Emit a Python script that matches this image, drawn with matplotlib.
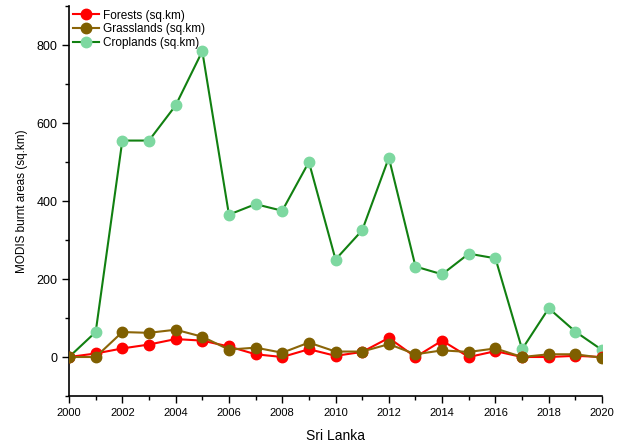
import matplotlib.pyplot as plt
from matplotlib.ticker import MultipleLocator

plt.rcParams["font.family"] = ["Liberation Sans", "DejaVu Sans"]

years = list(range(2000, 2021))
forests = [0, 9, 22, 32, 46, 42, 27, 7, 0, 20, 3, 13, 49, 0, 42, 0, 15, 0, 0, 3, 0]
grasslands = [0, 0, 64, 62, 70, 52, 19, 24, 11, 37, 14, 14, 33, 7, 17, 13, 22, 0, 7, 7, -2]
croplands = [0, 64, 555, 555, 645, 784, 365, 392, 375, 500, 250, 325, 511, 232, 212, 265, 253, 20, 125, 65, 18]

fig = plt.figure(figsize=(6.18, 4.46), dpi=100)
ax = fig.add_axes([0.1117, 0.1121, 0.8625, 0.8744])

ax.plot(years, forests, color="#FF0000", lw=1.5, marker="o", ms=7.5,
        mfc="#FF0000", mec="#FF0000", label="Forests (sq.km)", zorder=3)
ax.plot(years, grasslands, color="#8B6508", lw=1.5, marker="o", ms=7.5,
        mfc="#7F5F00", mec="#7F5F00", label="Grasslands (sq.km)", zorder=4)
ax.plot(years, croplands, color="#118011", lw=1.5, marker="o", ms=7.5,
        mfc="#7DD8A0", mec="#7DD8A0", label="Croplands (sq.km)", zorder=2)

ax.set_xlim(2000, 2020)
ax.set_ylim(-100, 900)
ax.xaxis.set_major_locator(MultipleLocator(2))
ax.xaxis.set_minor_locator(MultipleLocator(1))
ax.yaxis.set_major_locator(MultipleLocator(200))
ax.yaxis.set_minor_locator(MultipleLocator(100))
ax.tick_params(which="major", direction="out", length=5, width=1)
ax.tick_params(which="minor", direction="out", length=3, width=1)
ax.tick_params(axis="x", labelsize=8)
ax.tick_params(axis="y", labelsize=9)

for side in ["top", "right"]:
    ax.spines[side].set_visible(False)
for side in ["left", "bottom"]:
    ax.spines[side].set_linewidth(1.2)

ax.set_xlabel("Sri Lanka", fontsize=10, labelpad=8)
ax.set_ylabel("MODIS burnt areas (sq.km)", fontsize=8.5, labelpad=6)

ax.legend(loc="upper left", frameon=False, fontsize=8.5, handlelength=2.2,
          handletextpad=0.4, labelspacing=0.15, borderaxespad=0.2,
          borderpad=0.1)

fig.savefig("out.png", dpi=100)
